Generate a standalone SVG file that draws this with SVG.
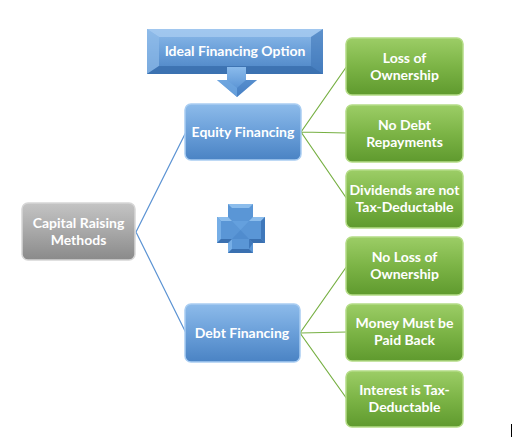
<svg xmlns="http://www.w3.org/2000/svg" width="524" height="438" viewBox="0 0 524 438">
<defs>
<linearGradient id="gBlue" x1="0" y1="0" x2="0" y2="1">
<stop offset="0" stop-color="#8dbbea"/><stop offset="0.5" stop-color="#6a9fd9"/><stop offset="1" stop-color="#4a83c4"/>
</linearGradient>
<linearGradient id="gGreen" x1="0" y1="0" x2="0" y2="1">
<stop offset="0" stop-color="#9ccd66"/><stop offset="0.5" stop-color="#7cb446"/><stop offset="1" stop-color="#5f9a2e"/>
</linearGradient>
<linearGradient id="gGray" x1="0" y1="0" x2="0" y2="1">
<stop offset="0" stop-color="#c4c4c4"/><stop offset="0.5" stop-color="#a8a8a8"/><stop offset="1" stop-color="#8a8a8a"/>
</linearGradient>
<linearGradient id="gArrow" x1="0" y1="0" x2="0" y2="1">
<stop offset="0" stop-color="#8abbec"/><stop offset="1" stop-color="#4a86cc"/>
</linearGradient>
<style>
.t{font-family:Lato,"Open Sans","Liberation Sans",sans-serif;font-weight:bold;font-size:14px;fill:#fff;text-anchor:middle}
.bb{fill:url(#gBlue);stroke:#a9cdf2;stroke-width:1.5}
.gb{fill:url(#gGreen);stroke:#b4dc86;stroke-width:1.5}
.yb{fill:url(#gGray);stroke:#d6d6d6;stroke-width:1.5}
.cb{fill:none;stroke:#5b93d3;stroke-width:1.2}
.cg{fill:none;stroke:#77b043;stroke-width:1.2}
</style>
</defs>
<g id="connectors">
<path class="cb" d="M136,232 L186,132 M136,232 L186,333"/>
<path class="cg" d="M301,132 L347,66 M301,132 L347,133 M301,132 L347,199"/>
<path class="cg" d="M300,333 L347,266 M300,333 L347,332 M300,333 L347,399"/>
</g>
<g id="ideal">
<rect x="147" y="29" width="176" height="45" fill="url(#gBlue)"/>
<polygon points="147,29 323,29 311,37 159,37" fill="#a6cbf0" opacity="0.8"/>
<polygon points="147,29 159,37 159,66 147,74" fill="#8fbbe8" opacity="0.7"/>
<polygon points="323,29 311,37 311,66 323,74" fill="#3f77b8" opacity="0.6"/>
<polygon points="147,74 159,66 311,66 323,74" fill="#346aa8" opacity="0.7"/>
<text class="t" x="235" y="56">Ideal Financing Option</text>
</g>
<g id="arrow">
<polygon points="227,67 246,67 246,80 257,80 237,97 217,80 227,80" fill="url(#gArrow)"/>
<polygon points="217,80 227,80 237,88 237,97" fill="#6fa7e0" opacity="0.7"/>
<polygon points="257,80 246,80 237,88 237,97" fill="#3f78bb" opacity="0.5"/>
</g>
<g id="equity">
<rect class="bb" x="185" y="104" width="116" height="56" rx="6"/>
<text class="t" x="243" y="137">Equity Financing</text>
</g>
<g id="debt">
<rect class="bb" x="185" y="304" width="115" height="58" rx="6"/>
<text class="t" x="242" y="338">Debt Financing</text>
</g>
<g id="capital">
<rect class="yb" x="22" y="203" width="113" height="57" rx="6"/>
<text class="t" x="78.500" y="228">Capital Raising</text>
<text class="t" x="78.500" y="245">Methods</text>
</g>
<g id="plus">
<polygon points="228,204 253,204 253,217 265,217 265,243 253,243 253,253 228,253 228,243 217,243 217,217 228,217" fill="#5a96d6"/>
<polygon points="228,204 253,204 249,208 232,208" fill="#8cbdec"/>
<polygon points="217,217 228,217 232,221 221,221" fill="#8cbdec"/>
<polygon points="253,217 265,217 261,221 249,221" fill="#8cbdec"/>
<polygon points="217,217 221,221 221,239 217,243" fill="#76aee6"/>
<polygon points="228,243 232,239 232,249 228,253" fill="#76aee6"/>
<polygon points="265,217 261,221 261,239 265,243" fill="#3f78bb"/>
<polygon points="253,243 249,249 249,239 253,243" fill="#3f78bb"/>
<polygon points="217,243 221,239 232,239 228,243" fill="#3a70b0"/>
<polygon points="253,243 249,239 261,239 265,243" fill="#3a70b0"/>
<polygon points="228,253 232,249 249,249 253,253" fill="#3a70b0"/>
<polygon points="232,221 249,221 240.500,230" fill="#6ba6e2" opacity="0.6"/>
<polygon points="232,239 249,239 240.500,230" fill="#4a86c8" opacity="0.6"/>
</g>
<g id="loss">
<rect class="gb" x="346" y="38" width="117" height="57" rx="6"/>
<text class="t" x="404.500" y="63">Loss of</text>
<text class="t" x="404.500" y="80">Ownership</text>
</g>
<g id="nodebt">
<rect class="gb" x="346" y="105" width="117" height="57" rx="6"/>
<text class="t" x="404.500" y="130">No Debt</text>
<text class="t" x="404.500" y="147">Repayments</text>
</g>
<g id="dividends">
<rect class="gb" x="346" y="170" width="117" height="58" rx="6"/>
<text class="t" x="404.500" y="195">Dividends are not</text>
<text class="t" x="404.500" y="212">Tax-Deductable</text>
</g>
<g id="noloss">
<rect class="gb" x="346" y="237" width="117" height="58" rx="6"/>
<text class="t" x="404.500" y="262">No Loss of</text>
<text class="t" x="404.500" y="279">Ownership</text>
</g>
<g id="money">
<rect class="gb" x="346" y="304" width="117" height="57" rx="6"/>
<text class="t" x="404.500" y="328">Money Must be</text>
<text class="t" x="404.500" y="345">Paid Back</text>
</g>
<g id="interest">
<rect class="gb" x="346" y="371" width="117" height="56" rx="6"/>
<text class="t" x="404.500" y="395">Interest is Tax-</text>
<text class="t" x="404.500" y="412">Deductable</text>
</g>
<line x1="511.500" y1="424" x2="511.500" y2="437" stroke="#000" stroke-width="1"/>
</svg>
